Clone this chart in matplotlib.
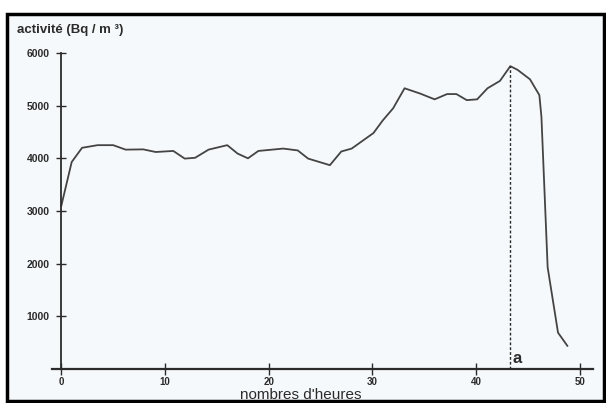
import matplotlib
matplotlib.use("Agg")
import matplotlib.pyplot as plt
from matplotlib.patches import Rectangle

# activity readings over time
hours = [0, 1, 2, 3.5, 5, 6.2, 7.9, 9.1, 10.8, 11.9, 12.9, 14.2, 16, 17, 18,
         19, 21.4, 22.8, 23.8, 25.9, 27, 28, 30.1, 31, 32, 33.1, 34.6, 36,
         37.2, 38.1, 39.1, 40.1, 41.1, 42.3, 43.3, 44, 45.2, 46.1, 46.3,
         46.9, 47.9, 48.8]
activity = [3100, 3930, 4200, 4250, 4250, 4165, 4170, 4120, 4140, 3995, 4010,
            4165, 4250, 4090, 4000, 4140, 4185, 4150, 3995, 3870, 4130, 4185,
            4480, 4720, 4950, 5330, 5230, 5120, 5220, 5220, 5105, 5120, 5330,
            5470, 5750, 5680, 5500, 5200, 4790, 1930, 690, 440]

peak_hour = 43.3
peak_value = 5750

xticks = [0, 10, 20, 30, 40, 50]
yticks = [1000, 2000, 3000, 4000, 5000, 6000]

plt.rcParams["font.family"] = ["Liberation Sans", "DejaVu Sans"]
ink = "#2b2b2b"
paper = "#f6f9fb"

fig = plt.figure(figsize=(6.06, 4.03), dpi=100, facecolor="white")
ax = fig.add_axes([0.0858, 0.0844, 0.8932, 0.7841])
ax.patch.set_alpha(0)

ax.plot(hours, activity, color="#444444", lw=1.3)
ax.plot([peak_hour, peak_hour], [0, peak_value], color=ink, lw=1.0,
        linestyle=(0, (2, 1.5)))
ax.text(peak_hour + 0.25, 120, "a", fontsize=12, fontweight="bold", color=ink)

ax.set_xlim(-0.9, 51.3)
ax.set_ylim(0, 6000)

for side in ("top", "right"):
    ax.spines[side].set_visible(False)
ax.spines["left"].set_position(("data", 0))
ax.spines["left"].set_color(ink)
ax.spines["bottom"].set_color(ink)
ax.spines["left"].set_linewidth(1.3)
ax.spines["bottom"].set_linewidth(1.6)

ax.set_xticks(xticks)
ax.set_yticks(yticks)
ax.tick_params(axis="both", direction="inout", colors=ink, width=1.0)
ax.tick_params(axis="y", length=7, pad=5, labelsize=7.5)
ax.tick_params(axis="x", length=8, pad=1.5, labelsize=7)
for lab in ax.get_xticklabels() + ax.get_yticklabels():
    lab.set_fontweight("bold")

fig.text(0.028, 0.925, "activité (Bq / m ³)", fontsize=9.5, color=ink,
         fontweight="bold", ha="left", va="center")
fig.text(0.497, 0.02, "nombres d'heures", fontsize=11, color=ink,
         ha="center", va="center")

# paper background and black frame
fig.patches.append(Rectangle((0.012, 0.004), 0.985, 0.962,
                             transform=fig.transFigure, facecolor=paper,
                             edgecolor="none", zorder=-1))
fig.patches.append(Rectangle((0.012, 0.004), 0.985, 0.962,
                             transform=fig.transFigure, fill=False,
                             edgecolor="black", lw=2.5))

fig.savefig("out.png", dpi=100, facecolor="white")
